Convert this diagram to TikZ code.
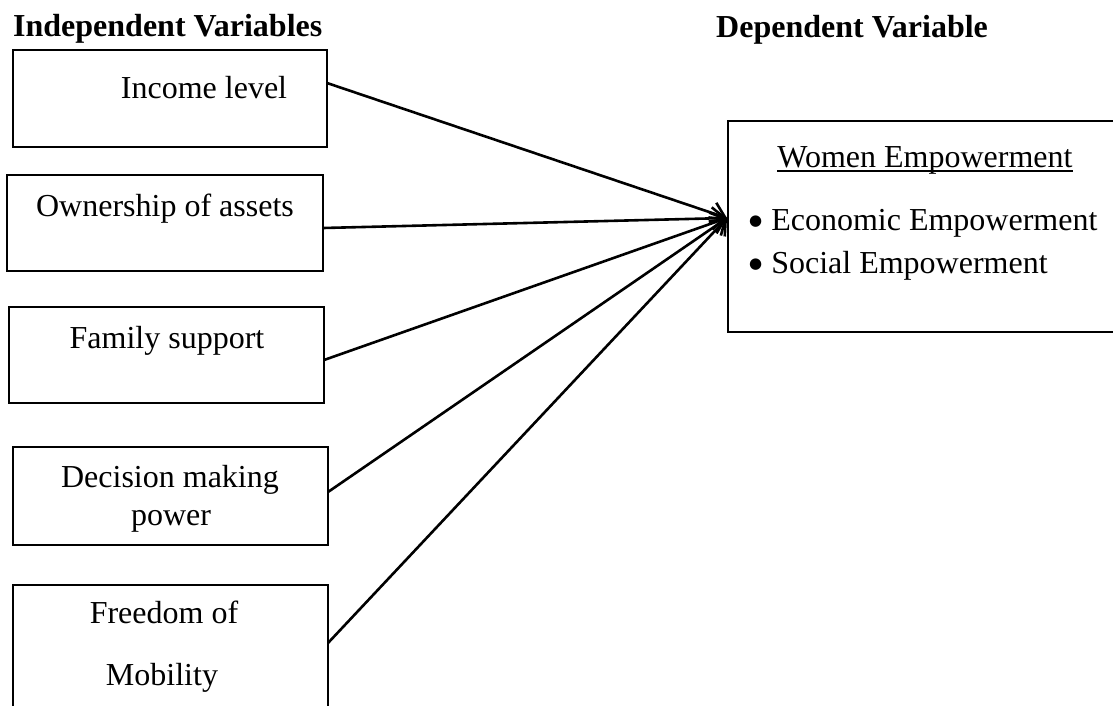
\documentclass[tikz,border=0pt]{standalone}
\usepackage{fontspec}
\setmainfont{Liberation Serif}
\newfontfamily\djvfont{DejaVu Sans}
\usetikzlibrary{arrows.meta,calc}
\newcommand\ulx[1]{\setbox0\hbox{#1}\rlap{\rule[-4.5pt]{\wd0}{2pt}}\box0}
\newcommand\bulx{\raisebox{5pt}{\djvfont\fontsize{15}{15}\selectfont ●}\hspace{9pt}}
\begin{document}
\begin{tikzpicture}[x=1pt,y=-1pt,
  varbox/.style={draw,line width=2.8pt,inner sep=0pt,outer sep=0pt,anchor=north west},
  lbl/.style={font=\fontsize{32}{38}\selectfont,inner sep=0pt,anchor=base},
  lblw/.style={font=\fontsize{32}{38}\selectfont,inner sep=0pt,anchor=base west},
  head/.style={font=\fontsize{32}{38}\selectfont\bfseries,inner sep=0pt,anchor=base west},
  link/.style={line width=2.6pt,-{Straight Barb[length=13pt,width=22pt,line width=2.6pt]}}]
\useasboundingbox (0,0) rectangle (1113,705);
\clip (0,0) rectangle (1113,705);
% headings
\node[head] (hind) at (13,36) {Independent Variables};
\node[head] (hdep) at (716,37) {Dependent Variable};
% independent variable boxes
\node[varbox,minimum width=314pt,minimum height=97pt] (b1) at (13,50) {};
\node[varbox,minimum width=316pt,minimum height=96pt] (b2) at (7,175) {};
\node[varbox,minimum width=315pt,minimum height=96pt] (b3) at (9,307) {};
\node[varbox,minimum width=315pt,minimum height=98pt] (b4) at (13,447) {};
\node[varbox,minimum width=315pt,minimum height=160pt] (b5) at (13,585) {};
% labels
\node[lbl] (t1) at (204,98) {Income level};
\node[lbl] (t2) at (165,216) {Ownership of assets};
\node[lbl] (t3) at (167,348) {Family support};
\node[lbl] (t4a) at (170,487) {Decision making};
\node[lbl] (t4b) at (171,525) {power};
\node[lbl] (t5a) at (164,623) {Freedom of};
\node[lbl] (t5b) at (162,685) {Mobility};
% dependent variable box
\node[varbox,minimum width=420pt,minimum height=211pt] (dv) at (728,121) {};
\node[lbl] (tw) at (925,167) {\ulx{Women Empowerment}};
\node[lblw] (te) at (749,230) {\bulx Economic Empowerment};
\node[lblw] (ts) at (749,273) {\bulx Social Empowerment};
% connectors
\coordinate (tip) at ($(dv.north west)+(-1,97)$);
\draw[link] ($(b1.north east)+(0,33)$) -- (tip);
\draw[link] ($(b2.north east)+(0,53)$) -- (tip);
\draw[link] ($(b3.north east)+(0,53)$) -- (tip);
\draw[link] ($(b4.north east)+(0,45)$) -- (tip);
\draw[link] ($(b5.north east)+(0,58)$) -- (tip);
\end{tikzpicture}
\end{document}
